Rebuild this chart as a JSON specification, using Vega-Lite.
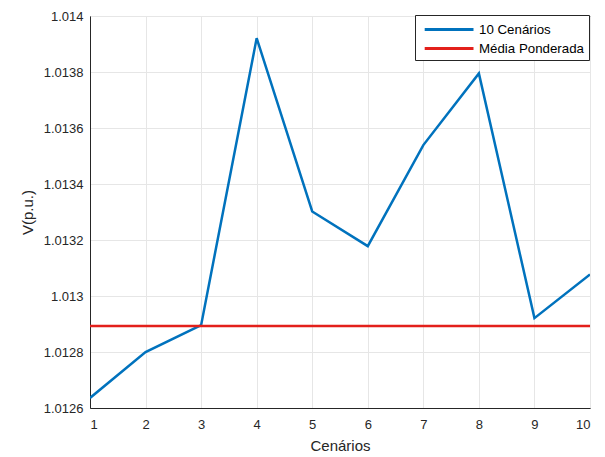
{
  "$schema": "https://vega.github.io/schema/vega-lite/v6.json",
  "width": 500,
  "height": 392,
  "autosize": {"type": "none"},
  "padding": {"left": 90, "top": 16, "right": 15, "bottom": 49},
  "background": "white",
  "config": {
    "view": {"stroke": "#262626", "strokeWidth": 1},
    "font": "Liberation Sans",
    "axis": {
      "domainColor": "#262626",
      "tickColor": "#262626",
      "labelColor": "#262626",
      "titleColor": "#262626",
      "gridColor": "#e6e6e6",
      "gridOpacity": 1,
      "labelFontSize": 13,
      "titleFontSize": 15,
      "titleFontWeight": "normal",
      "tickSize": 0
    }
  },
  "data": {
    "values": [
      {"c": 1, "v": 1.012636, "s": "10 Cenários"},
      {"c": 2, "v": 1.0128, "s": "10 Cenários"},
      {"c": 3, "v": 1.012896, "s": "10 Cenários"},
      {"c": 4, "v": 1.013921, "s": "10 Cenários"},
      {"c": 5, "v": 1.013302, "s": "10 Cenários"},
      {"c": 6, "v": 1.013178, "s": "10 Cenários"},
      {"c": 7, "v": 1.013539, "s": "10 Cenários"},
      {"c": 8, "v": 1.013795, "s": "10 Cenários"},
      {"c": 9, "v": 1.012921, "s": "10 Cenários"},
      {"c": 10, "v": 1.013077, "s": "10 Cenários"},
      {"c": 1, "v": 1.012893, "s": "Média Ponderada"},
      {"c": 10, "v": 1.012893, "s": "Média Ponderada"}
    ]
  },
  "mark": {"type": "line", "strokeWidth": 2.5, "clip": true},
  "encoding": {
    "x": {
      "field": "c",
      "type": "quantitative",
      "title": "Cenários",
      "scale": {"domain": [1, 10], "nice": false, "zero": false},
      "axis": {"values": [1,2,3,4,5,6,7,8,9,10], "format": "d", "labelPadding": 10, "titlePadding": 7}
    },
    "y": {
      "field": "v",
      "type": "quantitative",
      "title": "V(p.u.)",
      "scale": {"domain": [1.0126, 1.014], "nice": false, "zero": false},
      "axis": {"values": [1.0126, 1.0128, 1.013, 1.0132, 1.0134, 1.0136, 1.0138, 1.014], "format": ".4~f", "labelPadding": 7, "titlePadding": 8}
    },
    "color": {
      "field": "s",
      "type": "nominal",
      "scale": {"domain": ["10 Cenários", "Média Ponderada"], "range": ["#0072BD", "#E3201B"]},
      "legend": {
        "title": null,
        "orient": "none",
        "legendX": 325,
        "legendY": -1,
        "symbolType": "M-0.6,0H5.5",
        "symbolStrokeWidth": 3,
        "symbolSize": 256,
        "labelFontSize": 13.3,
        "labelOffset": 40,
        "labelColor": "#000000",
        "fillColor": "white",
        "strokeColor": "#262626",
        "padding": 5,
        "rowPadding": 3
      }
    }
  }
}
